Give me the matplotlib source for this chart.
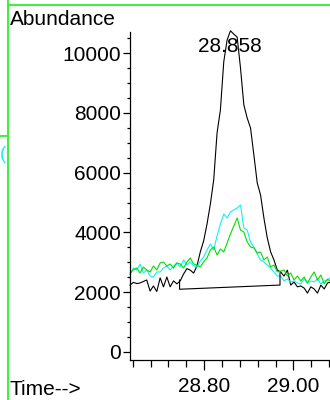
import numpy as np
import matplotlib
matplotlib.use("Agg")
import matplotlib.pyplot as plt
from matplotlib.ticker import MultipleLocator, FormatStrFormatter

plt.rcParams["font.family"] = ["Liberation Sans", "DejaVu Sans"]

# scan times (min), one scan every 0.0075 min
time = np.round(28.634 + 0.0075 * np.arange(61), 4)

# total ion chromatogram (black)
tic = [2240, 2330, 2290, 2310, 2360, 2410, 2040, 2210, 2025, 2480,
       2180, 2510, 2180, 2380, 2280, 2380, 2610, 2790, 2740, 2640,
       2880, 3350, 3720, 4280, 4950, 5760, 7330, 8100, 9710, 10440,
       10750, 10640, 10540, 9510, 8270, 7830, 7500, 6590, 5660, 5250,
       4480, 3820, 3350, 3080, 2740, 2680, 2540, 2740, 2240, 2340,
       2180, 2210, 2140, 1970, 2180, 2110, 1970, 2240, 2110, 2310,
       2340]

# extracted ion (cyan)
ion_cyan = [2580, 2810, 2745, 2945, 2644, 2745, 2544, 2510, 2678, 2678,
            2811, 2878, 2745, 2878, 2979, 2845, 3079, 2912, 3012, 2878,
            2845, 3046, 3180, 3414, 3615, 3414, 3883, 4284, 4619, 4485,
            4686, 4753, 4820, 4920, 4150, 4083, 3682, 3514, 3280, 3079,
            3012, 2912, 2811, 2678, 2544, 2544, 2376, 2443, 2343, 2376,
            2309, 2276, 2443, 2309, 2376, 2343, 2443, 2276, 2376, 2410,
            2510]

# extracted ion (green)
ion_green = [2644, 2745, 2811, 2644, 2845, 2745, 2678, 2878, 2745, 2979,
             3012, 2878, 2945, 2811, 2979, 2945, 2811, 3012, 3146, 2945,
             2912, 2845, 3012, 3146, 3414, 3514, 3247, 3447, 3347, 3648,
             3949, 4217, 4485, 4083, 4016, 3682, 3514, 3481, 3314, 3347,
             3079, 3180, 2845, 2912, 2678, 2711, 2745, 2544, 2644, 2410,
             2544, 2376, 2510, 2309, 2510, 2678, 2410, 2577, 2276, 2443,
             2343]

# integration baseline of the 28.858 peak
base_t = [28.745, 28.745, 28.970, 28.970]
base_y = [2410, 2100, 2240, 2650]
peak_rt = 28.858
peak_label = "28.858"

fig = plt.figure(figsize=(3.3, 4.0), dpi=100)
ax = fig.add_axes([130 / 330, 40 / 400, 200 / 330, 328 / 400])

ax.plot(time, tic, color="black", lw=0.8, clip_on=False)
ax.plot(time, ion_cyan, color="#10f0f8", lw=0.8, clip_on=False)
ax.plot(time, ion_green, color="#00e000", lw=0.8, clip_on=False)
ax.plot(base_t, base_y, color="black", lw=0.8)
ax.text(peak_rt, 10040, peak_label, ha="center", va="baseline", fontsize=15)

ax.set_xlim(28.634, 29.082)
ax.set_ylim(-268, 10710)

for s in ["top", "right"]:
    ax.spines[s].set_visible(False)
for s in ["left", "bottom"]:
    ax.spines[s].set_linewidth(0.9)

ax.xaxis.set_major_locator(MultipleLocator(0.2))
ax.xaxis.set_minor_locator(MultipleLocator(0.04))
ax.xaxis.set_major_formatter(FormatStrFormatter("%.2f"))
ax.yaxis.set_major_locator(MultipleLocator(2000))
ax.yaxis.set_minor_locator(MultipleLocator(500))
ax.tick_params(axis="x", which="major", length=7, width=0.9, pad=5, labelsize=15)
ax.tick_params(axis="x", which="minor", length=5, width=0.9)
ax.tick_params(axis="y", which="major", length=5, width=0.9, pad=1.5, labelsize=15)
ax.tick_params(axis="y", which="minor", length=2.5, width=0.9)

fig.text(10 / 330, 1 - 25 / 400, "Abundance", fontsize=15, va="baseline")
fig.text(10 / 330, 1 - 395 / 400, "Time-->", fontsize=15, va="baseline")

# bits of the neighbouring window frame
fig.add_artist(plt.Line2D([8 / 330, 8 / 330], [0, 1], color="#44ee44", lw=1.5))
fig.add_artist(plt.Line2D([8 / 330, 1], [1 - 4.5 / 400, 1 - 4.5 / 400], color="#44ee44", lw=1.5))
fig.add_artist(plt.Line2D([0, 8 / 330], [1 - 136 / 400, 1 - 136 / 400], color="#44ee44", lw=1.5))
fig.text(0, 1 - 159 / 400, "(", color="#10f0f8", fontsize=13, va="baseline")

fig.savefig("out.png", dpi=100)
